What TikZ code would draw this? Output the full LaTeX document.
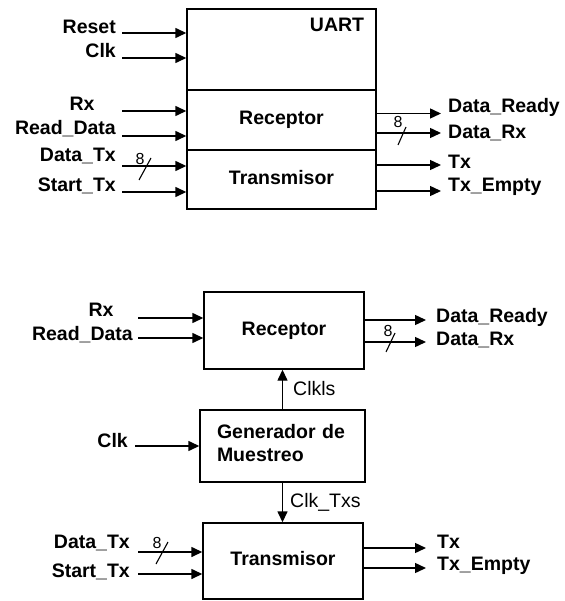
\documentclass[tikz,border=0pt]{standalone}
\usepackage{fontspec}
\setmainfont{Liberation Sans}
\usetikzlibrary{arrows.meta}
\begin{document}
\begin{tikzpicture}[x=1pt,y=-1pt,
  lbl/.style={font=\fontsize{19.5}{23}\selectfont\bfseries, inner sep=0pt},
  plain/.style={font=\fontsize{19.5}{23}\selectfont, inner sep=0pt},
  bw/.style={font=\fontsize{16}{18}\selectfont, inner sep=0pt},
  box/.style={draw, line width=1.4pt, inner sep=0pt, font=\fontsize{19.5}{23}\selectfont\bfseries},
  sig/.style={line width=1.4pt, -{Triangle[length=11pt,width=10pt]}},
  bus/.style={line width=1.1pt}]
\useasboundingbox (0,0) rectangle (564,601);

% ---------------- top: UART ----------------
\node[box, minimum width=189pt, minimum height=81pt] (uart) at (281.5,49.5) {};
\node[box, minimum width=189pt, minimum height=60pt] (rec1) at (281.5,120) {Receptor\rule[-4pt]{0pt}{4pt}};
\node[box, minimum width=189pt, minimum height=59pt] (tr1) at (281.5,179.5) {Transmisor\rule[-5pt]{0pt}{5pt}};
\node[lbl, anchor=base] (uartlbl) at (337,32) {UART};

% inputs
\coordinate (iReset) at (122,33);
\coordinate (iClk) at (122,58);
\coordinate (iRx) at (122,111);
\coordinate (iRd) at (122,136);
\coordinate (iDtx) at (122,166);
\coordinate (iStx) at (122,192);
\draw[sig] (iReset) -- (iReset -| uart.west);
\draw[sig] (iClk) -- (iClk -| uart.west);
\draw[sig] (iRx) -- (iRx -| rec1.west);
\draw[sig] (iRd) -- (iRd -| rec1.west);
\draw[sig] (iDtx) -- (iDtx -| tr1.west);
\draw[sig] (iStx) -- (iStx -| tr1.west);
\node[lbl, anchor=base east] (lReset) at (116,34) {Reset};
\node[lbl, anchor=base east] (lClk) at (116,58) {Clk};
\node[lbl, anchor=base] (lRx) at (82,111) {Rx};
\node[lbl, anchor=base east] (lRd) at (116,135) {Read\_Data};
\node[lbl, anchor=base east] (lDtx) at (116,162) {Data\_Tx};
\node[lbl, anchor=base east] (lStx) at (116,192) {Start\_Tx};
\coordinate (s1a) at (139,180);
\coordinate (s1b) at (151,158);
\draw[bus] (s1a) -- (s1b);
\node[bw, anchor=base] (b1) at (140,165) {8};

% outputs
\coordinate (oDr) at (441,113.5);
\coordinate (oDrx) at (441,133);
\coordinate (oTx) at (441,165);
\coordinate (oTe) at (441,191);
\draw[sig] (oDr -| rec1.east) -- (oDr);
\draw[sig] (oDrx -| rec1.east) -- (oDrx);
\draw[sig] (oTx -| tr1.east) -- (oTx);
\draw[sig] (oTe -| tr1.east) -- (oTe);
\node[lbl, anchor=base west] (lDr) at (448,113) {Data\_Ready};
\node[lbl, anchor=base west] (lDrx) at (448,139) {Data\_Rx};
\node[lbl, anchor=base west] (lTx) at (448,169) {Tx};
\node[lbl, anchor=base west] (lTe) at (448,192) {Tx\_Empty};
\coordinate (s2a) at (398,145);
\coordinate (s2b) at (406,127);
\draw[bus] (s2a) -- (s2b);
\node[bw, anchor=base] (b2) at (398,128) {8};

% ---------------- bottom ----------------
\node[box, minimum width=160pt, minimum height=77pt] (rec) at (284,330.5) {Receptor};
\node[box, minimum height=72pt, text width=131pt, inner xsep=17pt, align=left] (gen) at (282.5,446) {Generador de\\Muestreo\rule[-7pt]{0pt}{7pt}};
\node[box, minimum width=160pt, minimum height=76pt] (tr) at (283,561) {Transmisor\rule[-5pt]{0pt}{5pt}};

\coordinate (bRx) at (138,318);
\coordinate (bRd) at (138,338);
\coordinate (bClk) at (135,446);
\coordinate (bDtx) at (138,552);
\coordinate (bStx) at (138,574);
\draw[sig] (bRx) -- (bRx -| rec.west);
\draw[sig] (bRd) -- (bRd -| rec.west);
\draw[sig] (bClk) -- (bClk -| gen.west);
\draw[sig] (bDtx) -- (bDtx -| tr.west);
\draw[sig] (bStx) -- (bStx -| tr.west);
\node[lbl, anchor=base] (mRx) at (101,316) {Rx};
\node[lbl, anchor=base east] (mRd) at (133,340) {Read\_Data};
\node[lbl, anchor=base east] (mClk) at (128,447) {Clk};
\node[lbl, anchor=base east] (mDtx) at (130,548) {Data\_Tx};
\node[lbl, anchor=base east] (mStx) at (130,577) {Start\_Tx};
\coordinate (s3a) at (156,564);
\coordinate (s3b) at (168,542);
\draw[bus] (s3a) -- (s3b);
\node[bw, anchor=base] (b3) at (157,548) {8};

\coordinate (bDr) at (426,320);
\coordinate (bDrx) at (426,342);
\coordinate (bTx) at (426,548);
\coordinate (bTe) at (426,568);
\draw[sig] (bDr -| rec.east) -- (bDr);
\draw[sig] (bDrx -| rec.east) -- (bDrx);
\draw[sig] (bTx -| tr.east) -- (bTx);
\draw[sig] (bTe -| tr.east) -- (bTe);
\node[lbl, anchor=base west] (mDr) at (436,322) {Data\_Ready};
\node[lbl, anchor=base west] (mDrx) at (436,345) {Data\_Rx};
\node[lbl, anchor=base west] (mTx) at (437,548) {Tx};
\node[lbl, anchor=base west] (mTe) at (437,570) {Tx\_Empty};
\coordinate (s4a) at (386,352);
\coordinate (s4b) at (395,333);
\draw[bus] (s4a) -- (s4b);
\node[bw, anchor=base] (b4) at (388,336) {8};

% internal clocks
\draw[sig] (gen.north) -- (gen.north |- rec.south);
\draw[sig] (gen.south) -- (gen.south |- tr.north);
\node[plain, anchor=base west] (clkls) at (293,395) {Clkls};
\node[plain, anchor=base west] (clktxs) at (290,507) {Clk\_Txs};
\end{tikzpicture}
\end{document}
